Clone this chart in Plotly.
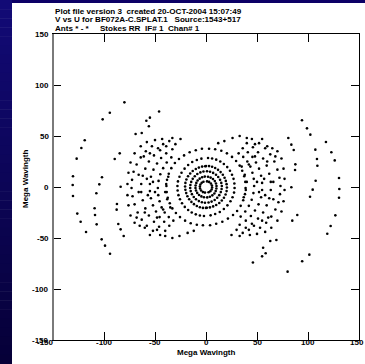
import plotly.graph_objects as go

# (u, v) samples in mega-wavelengths for the u >= 0 half-plane
U_HALF = [
    # outer tracks
    94.1, 99.0, 102.3, 80.7, 83.7, 86.0, 117.6, 122.9, 126.2, 107.2, 108.8, 109.2,
    130.4, 130.7, 130.4, 107.5, 104.6, 102.0, 87.3, 87.6, 83.7, 89.5, 84.6,
    126.8, 122.2, 118.9, 101.3, 94.3, 80.0, 46.0, 55.0, 58.5, 56.0, 63.0, 69.0,
    # innermost rings
    1, 3, 4.8, 5.8, 6, 5.5, 4.2, 2.5,
    2, 4.5, 6.8, 8.6, 9.8, 10.3, 10.2, 9.5, 8.2, 6.2, 3.8, 1.2,
    1, 4, 7, 9.8, 12, 13.8, 15, 15.5, 15.3, 14.5, 13, 11, 8.5, 5.5, 2.5,
    0, 3, 6, 9, 11.8, 14.3, 16.5, 18.2, 19.4, 20.2, 20.5, 20.2, 19.2, 17.6, 15.5, 13, 10, 7, 3.8, 0.8,
    2, 6, 10, 14, 17.5, 20.8, 23.5, 25.5, 27, 27.8, 28, 27.5, 26, 24, 21, 17.5, 13.5, 9, 4.5,
    3, 9, 15, 20.5, 25.5, 29.5, 33, 35.5, 37.5, 38.5, 38.8, 38.2, 36.5, 34, 30.5, 26.5, 21.5, 16, 10, 4,
    # mid-spacing tracks
    45, 52, 58, 63, 67, 70, 72, 73, 72.5, 71, 68, 64, 59, 53,
    40, 46, 51, 56, 59.5, 62, 63.5, 63.5, 62, 59.5, 56, 51, 45, 39,
    36, 41, 45.5, 49, 52, 54, 55, 55, 54, 51.5, 48, 44, 39, 33,
    32, 36.5, 40.5, 43.5, 45.5, 46.8, 47.2, 46.5, 44.8, 42, 38.5, 34,
    35, 38, 40, 39, 37, 42, 48, 50, 52, 57, 58, 60, 66, 66, 68, 61, 55, 47, 42, 36,
    30, 25, 50, 58, 64, 48, 55, 40, 33, 26, 18, 12, 60, 65, 70, 74, 76, 77, 77, 76,
    74, 70, 33, 43,
]
V_HALF = [
    65.4, 57.5, 51.3, 48.0, 41.5, 36.3, 44.1, 34.0, 26.1, 36.6, 27.5, 20.9,
    8.8, -2.0, -10.5, 6.2, -2.6, -9.5, 16.7, 22.2, -0.3, -27.5, -33.0,
    -27.8, -38.2, -45.8, -66.3, -72.8, -83.0, -74.0, -68.0, -65.0, -59.5, -53.0, -52.0,
    5.5, 5, 3.5, 1.5, -0.5, -2.5, -4.2, -5.2,
    10, 9.2, 7.8, 5.8, 3.5, 1, -1.5, -4, -6.3, -8.2, -9.5, -10.2,
    15.5, 15, 13.8, 12, 9.8, 7, 4, 1, -2, -5, -8, -10.5, -12.8, -14.3, -15.2,
    20.5, 20.5, 19.8, 18.6, 16.8, 14.6, 12, 9, 6, 2.8, -0.5, -4, -7.4, -10.5, -13.3, -15.7, -17.6, -19, -20, -20.4,
    28.5, 28, 26.8, 25, 22.5, 19.5, 16, 12, 8, 3.5, -1, -5.5, -10, -14, -18, -21.5, -24.5, -26.5, -27.8,
    37.5, 37, 35.5, 33, 29.5, 25.5, 21, 16, 10.5, 5, -1, -7, -13, -18.5, -23.5, -27.5, -31, -34, -36, -37.5,
    47, 43, 38, 32, 25, 17, 9, 1, -7, -15, -22, -29, -35, -40,
    43, 39, 34, 28, 21, 13, 5, -3, -11, -18, -25, -31, -36, -40,
    38, 34, 29.5, 24, 18, 11, 4, -3, -10, -17, -23, -28.5, -33, -37,
    33, 29.5, 25, 20, 14, 8, 1, -6, -12.5, -18.5, -24, -29,
    20, 12, 5, -3, -10, 22, 30, 5, -5, 8, -8, 25, 5, -12, 30, -30, -33, -38, -42, -45,
    -42, -47, -46, -44, -40, 42, 47, 48, 50, 48, 45, 43, 40, 38, 35, 28, 18, 8, -3, -14,
    -24, -33, -48, -47,
]

# every visibility also appears as its conjugate (-u, -v)
u_all = U_HALF + [-x for x in U_HALF]
v_all = V_HALF + [-y for y in V_HALF]

TITLE_LINES = [
    "Plot file version 3&nbsp;&nbsp;created 20-OCT-2004 15:07:49",
    "V vs U for BF072A-C.SPLAT.1&nbsp;&nbsp;&nbsp;Source:1543+517",
    "Ants * - *&nbsp;&nbsp;&nbsp;&nbsp;&nbsp;Stokes RR&nbsp;&nbsp;IF# 1&nbsp;&nbsp;Chan# 1",
]
AXIS_TITLE = "Mega Wavingth"
TICKS = [-150, -100, -50, 0, 50, 100, 150]

W, H = 365, 364
L, R, T, B = 53, 6, 34, 24
PW, PH = W - L - R, H - T - B


def px_x(px):
    return (px - L) / PW


def px_y(py):
    return (H - B - py) / PH


FONT = "Liberation Sans, Arial, Helvetica, sans-serif"
LABEL_FONT = dict(family=FONT, size=8, color="black", weight="bold")

fig = go.Figure(go.Scatter(
    x=u_all, y=v_all, mode="markers",
    marker=dict(size=2.6, color="black", line=dict(width=0)),
    hoverinfo="skip",
))

axis_common = dict(
    range=[-150, 150], tickvals=TICKS, showticklabels=False,
    ticks="inside", ticklen=8, tickwidth=1, tickcolor="black",
    showline=True, linecolor="black", linewidth=1, mirror="ticks",
    showgrid=False, zeroline=False,
)

shapes = []
# navy frame: a thin strip along the top and a darkening band on the left
shapes.append(dict(type="rect", xref="paper", yref="paper", layer="below",
                   x0=px_x(0), x1=px_x(W), y0=px_y(0), y1=px_y(3),
                   fillcolor="#0c0066", line=dict(width=0)))
n_bands = 40
top_c = (18, 10, 118)
bot_c = (6, 0, 56)
for i in range(n_bands):
    f = i / (n_bands - 1)
    c = tuple(round(a + (b - a) * f) for a, b in zip(top_c, bot_c))
    y0 = H * i / n_bands
    y1 = min(H, H * (i + 1) / n_bands + 0.5)
    shapes.append(dict(type="rect", xref="paper", yref="paper", layer="below",
                       x0=px_x(0), x1=px_x(12), y0=px_y(y0), y1=px_y(y1),
                       fillcolor="rgb(%d,%d,%d)" % c, line=dict(width=0)))
# the left frame edge is drawn in a softer grey, slightly heavier
shapes.append(dict(type="line", xref="paper", yref="paper", layer="above",
                   x0=0, x1=0, y0=0, y1=1,
                   line=dict(color="#7a7a7a", width=2)))

annotations = []
for i, line in enumerate(TITLE_LINES):
    annotations.append(dict(
        text=line, xref="paper", yref="paper", x=px_x(54), y=px_y(11.4 + 8.6 * i),
        xanchor="left", yanchor="middle", showarrow=False, borderpad=0,
        font=dict(family=FONT, size=8.1, color="black", weight="bold"),
    ))

# tick labels along the left and bottom edges
for t in TICKS:
    annotations.append(dict(
        text=str(t), xref="paper", yref="y", x=px_x(49.5), y=t,
        xanchor="right", yanchor="middle", showarrow=False, borderpad=0,
        font=LABEL_FONT,
    ))
for t in TICKS:
    if t == TICKS[0]:
        anchor, xpos = "right", dict(xref="paper", x=px_x(54.5))
    elif t == TICKS[-1]:
        anchor, xpos = "center", dict(xref="paper", x=px_x(356.5))
    else:
        anchor, xpos = "center", dict(xref="x", x=t)
    annotations.append(dict(
        text=str(t), yref="paper", y=px_y(342.8),
        xanchor=anchor, yanchor="middle", showarrow=False, borderpad=0,
        font=LABEL_FONT, **xpos,
    ))

annotations.append(dict(
    text=AXIS_TITLE, xref="paper", yref="paper", x=px_x(206), y=px_y(352.5),
    xanchor="center", yanchor="middle", showarrow=False, borderpad=0,
    font=LABEL_FONT,
))
annotations.append(dict(
    text=AXIS_TITLE, xref="paper", yref="paper", x=px_x(25), y=px_y(179),
    xanchor="center", yanchor="middle", showarrow=False, textangle=-90,
    borderpad=0, font=LABEL_FONT,
))

fig.update_layout(
    width=W, height=H,
    margin=dict(l=L, r=R, t=T, b=B, pad=0),
    paper_bgcolor="white", plot_bgcolor="white",
    showlegend=False,
    xaxis=axis_common,
    yaxis=axis_common,
    shapes=shapes,
    annotations=annotations,
)

fig.write_html("out.html")
